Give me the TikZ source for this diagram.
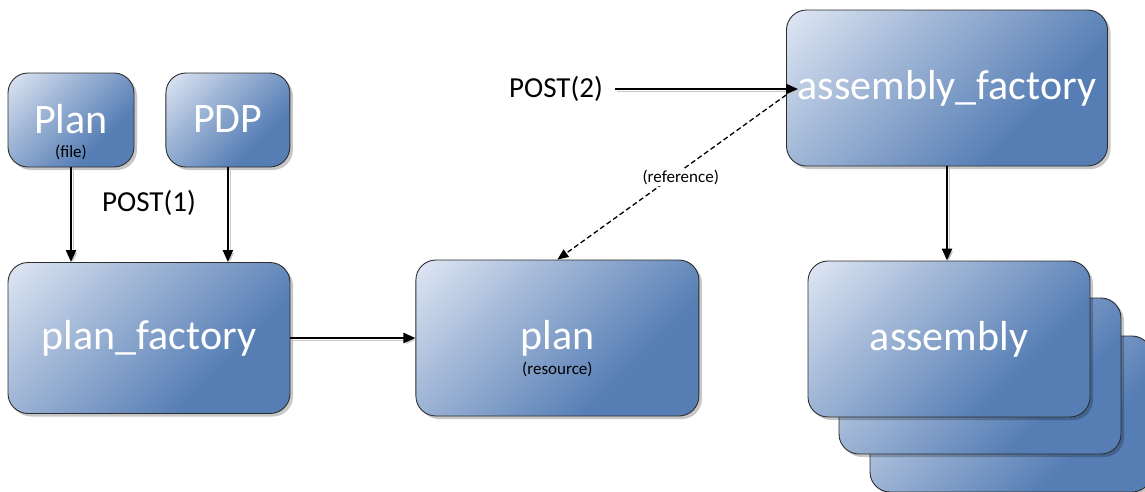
\documentclass[tikz,border=0pt]{standalone}
\usepackage{fontspec}
\setmainfont{Carlito}
\usetikzlibrary{arrows.meta,positioning,shadows}

\definecolor{boxlight}{RGB}{236,241,249}
\definecolor{boxmid}{RGB}{160,182,214}
\definecolor{boxdark}{RGB}{86,126,181}
\definecolor{boxline}{RGB}{45,45,45}
\pgfdeclareverticalshading{boxshade}{100bp}{color(0bp)=(boxdark); color(33bp)=(boxdark); color(62bp)=(boxmid); color(90bp)=(boxlight); color(100bp)=(boxlight)}

\begin{document}
\begin{tikzpicture}[x=1pt, y=1pt,
    main box/.style={rectangle, rounded corners=20pt, draw=boxline, line width=0.9pt,
      shade, shading=boxshade, shading angle=45, text=white, inner sep=0pt,
      font=\fontsize{42}{48}\selectfont,
      drop shadow={shadow xshift=3pt, shadow yshift=-3pt, fill=black, opacity=0.22}},
    sub text/.style={font=\fontsize{17}{20}\selectfont, text=black, inner sep=1pt},
    post text/.style={font=\fontsize{29}{34}\selectfont, inner sep=0pt},
    link/.style={line width=2.2pt, -{Triangle[length=12pt,width=10pt]},
      preaction={draw=black!22, transform canvas={shift={(2pt,-2pt)}}}},
    ref link/.style={line width=1.3pt, dash pattern=on 5pt off 3pt, -{Triangle[length=11pt,width=9pt]}}]

  \useasboundingbox (0,0) rectangle (1145,-491);

  % left column
  \node[main box, minimum width=126, minimum height=94] (planfile) at (71,-120) {\raisebox{2pt}{Plan}};
  \node[main box, minimum width=124, minimum height=94, right=31pt of planfile] (pdp) {\raisebox{2pt}{PDP}};
  \node[main box, minimum width=282, minimum height=151] (planf) at (149,-338) {plan\_factory};
  \node[sub text] (filelbl) [yshift=-32pt] at (planfile.center) {(file)};
  \node[post text] (post1) at (149,-203) {POST(1)};

  % middle
  \node[main box, minimum width=283, minimum height=156, right=125pt of planf] (plan) {plan};
  \node[sub text] (reslbl) [yshift=-31pt] at (plan.center) {(resource)};

  % right column
  \node[main box, minimum width=321, minimum height=156] (asmf) at (947,-88) {assembly\_factory};
  \node[post text] (post2) at (556,-89) {POST(2)};
  \node[main box, minimum width=282, minimum height=156] (asm3) at (1011,-414) {};
  \node[main box, minimum width=282, minimum height=156] (asm2) at (980,-376) {};
  \node[main box, minimum width=282, minimum height=156] (asm) at (949,-339) {assembly};

  % connectors
  \draw[link] (planfile.south) -- (planfile.south |- planf.north);
  \draw[link] (pdp.south) -- (pdp.south |- planf.north);
  \draw[link] (planf.east) -- (planf.east -| plan.west);
  \draw[link] ([xshift=12pt]post2.east) -- ([xshift=12pt]post2.east -| asmf.west);
  \draw[link] (asmf.south) -- (asmf.south |- asm.north);
  \draw[ref link] ([yshift=-7pt]asmf.west) -- (plan.north)
    node[sub text, midway, fill=white, xshift=9pt] (reflbl) {(reference)};

\end{tikzpicture}
\end{document}
